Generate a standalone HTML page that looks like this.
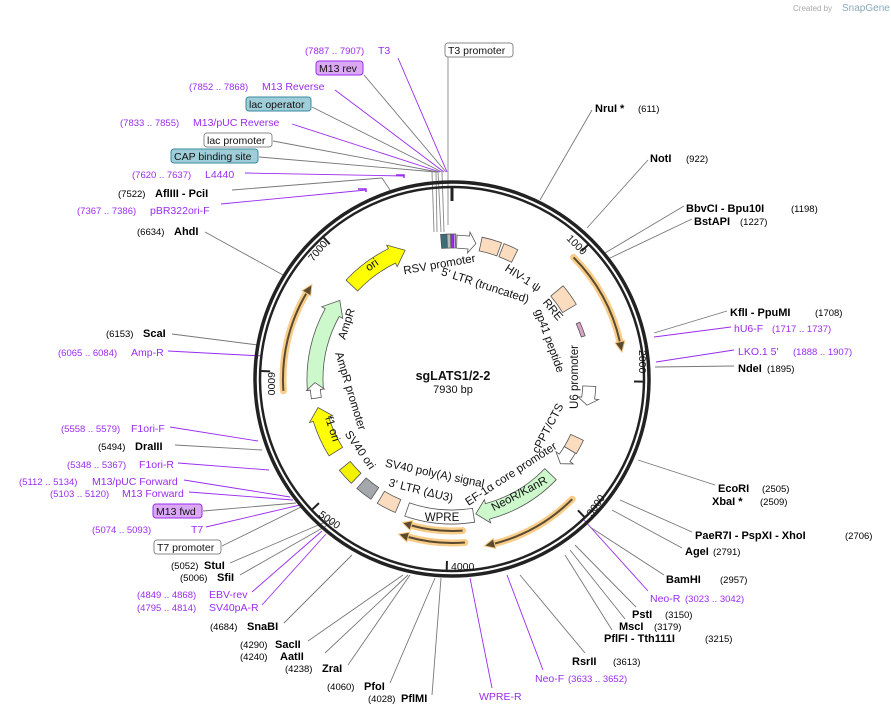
<!DOCTYPE html>
<html><head><meta charset="utf-8"><style>
body{margin:0;background:#fff;width:891px;height:714px;overflow:hidden}
svg{display:block;font-family:"Liberation Sans","DejaVu Sans",sans-serif}
.p{fill:#9a2cf0;font-size:10.5px}
.pc{fill:#9a2cf0;font-size:9.5px}
.k{fill:#000;font-size:11px;font-weight:bold}
.kc{fill:#000;font-size:9.5px}
.in{fill:#111;font-size:11.5px}
.bx{font-size:10.5px;fill:#111}
</style></head><body>
<svg id="s" width="891" height="714" viewBox="0 0 891 714" xmlns="http://www.w3.org/2000/svg">
<text x="793" y="11" font-size="8" fill="#aaa">Created by</text>
<text x="842" y="11" font-size="10" fill="#8ab">SnapGene</text>
<g id="lines" stroke-width="0.9" fill="none">
<line x1="398" y1="58" x2="447" y2="172" stroke="#9a2cf0"/>
<line x1="448" y1="57" x2="448" y2="225" stroke="#888"/>
<line x1="364" y1="75" x2="446" y2="172" stroke="#777"/>
<line x1="335" y1="90" x2="444" y2="172" stroke="#9a2cf0"/>
<line x1="312" y1="107" x2="442" y2="172" stroke="#777"/>
<line x1="292" y1="124" x2="440" y2="172" stroke="#9a2cf0"/>
<line x1="273" y1="141" x2="438" y2="172" stroke="#777"/>
<line x1="259" y1="157" x2="436" y2="172" stroke="#777"/>
<line x1="438" y1="172" x2="441" y2="232" stroke="#888"/>
<line x1="436" y1="172" x2="437" y2="232" stroke="#888"/>
<line x1="442" y1="172" x2="444" y2="232" stroke="#888"/>
<line x1="432" y1="172" x2="434" y2="232" stroke="#888"/>
<line x1="245" y1="173" x2="404" y2="176" stroke="#9a2cf0"/>
<line x1="232" y1="190" x2="382" y2="178" stroke="#777"/><line x1="382" y1="178" x2="390" y2="190" stroke="#777"/>
<line x1="221" y1="204" x2="366" y2="190" stroke="#9a2cf0"/>
<line x1="205" y1="232" x2="283" y2="275" stroke="#777"/>
<line x1="172" y1="334" x2="258" y2="345" stroke="#777"/>
<line x1="168" y1="351" x2="262" y2="356" stroke="#9a2cf0"/>
<line x1="170" y1="427" x2="258" y2="441" stroke="#9a2cf0"/>
<line x1="175" y1="445" x2="262" y2="450" stroke="#777"/>
<line x1="178" y1="463" x2="269" y2="470" stroke="#9a2cf0"/>
<line x1="184" y1="480" x2="290" y2="497" stroke="#9a2cf0"/>
<line x1="189" y1="492" x2="293" y2="500" stroke="#9a2cf0"/>
<line x1="203" y1="511" x2="296" y2="503" stroke="#777"/>
<line x1="206" y1="527" x2="300" y2="505" stroke="#9a2cf0"/>
<line x1="222" y1="546" x2="301" y2="507" stroke="#777"/>
<line x1="230" y1="563" x2="330" y2="520" stroke="#777"/>
<line x1="240" y1="575" x2="333" y2="522" stroke="#777"/>
<line x1="252" y1="592" x2="322" y2="531" stroke="#9a2cf0"/>
<line x1="262" y1="605" x2="326" y2="534" stroke="#9a2cf0"/>
<line x1="284" y1="623" x2="352" y2="555" stroke="#777"/>
<line x1="308" y1="641" x2="403" y2="575" stroke="#777"/>
<line x1="325" y1="653" x2="408" y2="575" stroke="#777"/>
<line x1="348" y1="665" x2="410" y2="575" stroke="#777"/>
<line x1="390" y1="683" x2="435" y2="578" stroke="#777"/>
<line x1="432" y1="695" x2="441" y2="578" stroke="#777"/>
<line x1="492" y1="688" x2="470" y2="578" stroke="#9a2cf0"/>
<line x1="543" y1="670" x2="507" y2="575" stroke="#9a2cf0"/>
<line x1="585" y1="653" x2="520" y2="575" stroke="#777"/>
<line x1="612" y1="630" x2="565" y2="555" stroke="#777"/>
<line x1="625" y1="619" x2="570" y2="550" stroke="#777"/>
<line x1="636" y1="607" x2="575" y2="545" stroke="#777"/>
<line x1="648" y1="591" x2="584" y2="520" stroke="#9a2cf0"/>
<line x1="664" y1="575" x2="590" y2="527" stroke="#777"/>
<line x1="682" y1="548" x2="612" y2="510" stroke="#777"/>
<line x1="692" y1="532" x2="620" y2="500" stroke="#777"/>
<line x1="715" y1="485" x2="638" y2="460" stroke="#777"/>
<line x1="734" y1="366" x2="655" y2="367" stroke="#777"/>
<line x1="734" y1="350" x2="656" y2="362" stroke="#9a2cf0"/>
<line x1="731" y1="327" x2="654" y2="337" stroke="#9a2cf0"/>
<line x1="727" y1="311" x2="654" y2="333" stroke="#777"/>
<line x1="692" y1="219" x2="610" y2="258" stroke="#777"/>
<line x1="684" y1="206" x2="605" y2="253" stroke="#777"/>
<line x1="648" y1="160" x2="587" y2="228" stroke="#777"/>
<line x1="592" y1="110" x2="540" y2="200" stroke="#777"/>
</g>
<g id="g"></g>
<text x="305" y="54" class="pc">(7887 .. 7907)</text><text x="378" y="54" class="p">T3</text>
<rect x="445" y="43" width="68" height="14" rx="3" fill="#fff" stroke="#888"/><text x="448" y="54" class="bx">T3 promoter</text>
<rect x="316" y="61" width="47" height="14" rx="3" fill="#dba8f3" stroke="#9a2cf0"/><text x="319" y="72" class="bx">M13 rev</text>
<text x="189" y="90" class="pc">(7852 .. 7868)</text><text x="262" y="90" class="p">M13 Reverse</text>
<rect x="246" y="97" width="65" height="14" rx="3" fill="#9fcdd8" stroke="#3a8aa0"/><text x="249" y="108" class="bx">lac operator</text>
<text x="120" y="126" class="pc">(7833 .. 7855)</text><text x="193" y="126" class="p">M13/pUC Reverse</text>
<rect x="204" y="133" width="68" height="14" rx="3" fill="#fff" stroke="#888"/><text x="207" y="144" class="bx">lac promoter</text>
<rect x="171" y="149" width="87" height="14" rx="3" fill="#9fcdd8" stroke="#3a8aa0"/><text x="174" y="160" class="bx">CAP binding site</text>
<text x="132" y="178" class="pc">(7620 .. 7637)</text><text x="205" y="178" class="p">L4440</text>
<text x="118" y="197" class="kc">(7522)</text><text x="155" y="197" class="k">AflIII  - PciI</text>
<text x="77" y="214" class="pc">(7367 .. 7386)</text><text x="150" y="214" class="p">pBR322ori-F</text>
<text x="137" y="235" class="kc">(6634)</text><text x="174" y="235" class="k">AhdI</text>
<text x="106" y="337" class="kc">(6153)</text><text x="143" y="337" class="k">ScaI</text>
<text x="58" y="356" class="pc">(6065 .. 6084)</text><text x="131" y="356" class="p">Amp-R</text>
<text x="61" y="432" class="pc">(5558 .. 5579)</text><text x="131" y="432" class="p">F1ori-F</text>
<text x="98" y="450" class="kc">(5494)</text><text x="135" y="450" class="k">DraIII</text>
<text x="67" y="468" class="pc">(5348 .. 5367)</text><text x="139" y="468" class="p">F1ori-R</text>
<text x="19" y="485" class="pc">(5112 .. 5134)</text><text x="92" y="485" class="p">M13/pUC Forward</text>
<text x="50" y="497" class="pc">(5103 .. 5120)</text><text x="122" y="497" class="p">M13 Forward</text>
<rect x="153" y="504" width="49" height="14" rx="3" fill="#dba8f3" stroke="#9a2cf0"/><text x="156" y="515" class="bx">M13 fwd</text>
<text x="92" y="533" class="pc">(5074 .. 5093)</text><text x="191" y="533" class="p">T7</text>
<rect x="154" y="540" width="67" height="14" rx="3" fill="#fff" stroke="#888"/><text x="157" y="551" class="bx">T7 promoter</text>
<text x="171" y="569" class="kc">(5052)</text><text x="204" y="569" class="k">StuI</text>
<text x="180" y="581" class="kc">(5006)</text><text x="217" y="581" class="k">SfiI</text>
<text x="137" y="598" class="pc">(4849 .. 4868)</text><text x="209" y="598" class="p">EBV-rev</text>
<text x="137" y="611" class="pc">(4795 .. 4814)</text><text x="209" y="611" class="p">SV40pA-R</text>
<text x="210" y="630" class="kc">(4684)</text><text x="247" y="630" class="k">SnaBI</text>
<text x="240" y="648" class="kc">(4290)</text><text x="275" y="648" class="k">SacII</text>
<text x="240" y="660" class="kc">(4240)</text><text x="280" y="660" class="k">AatII</text>
<text x="285" y="672" class="kc">(4238)</text><text x="322" y="672" class="k">ZraI</text>
<text x="327" y="690" class="kc">(4060)</text><text x="364" y="690" class="k">PfoI</text>
<text x="368" y="702" class="kc">(4028)</text><text x="401" y="702" class="k">PflMI</text>
<text x="479" y="700" class="p">WPRE-R</text>
<text x="535" y="682" class="p">Neo-F</text><text x="568" y="682" class="pc">(3633 .. 3652)</text>
<text x="572" y="665" class="k">RsrII</text><text x="613" y="665" class="kc">(3613)</text>
<text x="604" y="642" class="k">PflFI  - Tth111I</text><text x="705" y="642" class="kc">(3215)</text>
<text x="619" y="630" class="k">MscI</text><text x="654" y="630" class="kc">(3179)</text>
<text x="632" y="618" class="k">PstI</text><text x="665" y="618" class="kc">(3150)</text>
<text x="650" y="602" class="p">Neo-R</text><text x="685" y="602" class="pc">(3023 .. 3042)</text>
<text x="666" y="583" class="k">BamHI</text><text x="720" y="583" class="kc">(2957)</text>
<text x="685" y="555" class="k">AgeI</text><text x="713" y="555" class="kc">(2791)</text>
<text x="695" y="539" class="k">PaeR7I  - PspXI  - XhoI</text><text x="845" y="539" class="kc">(2706)</text>
<text x="718" y="492" class="k">EcoRI</text><text x="762" y="492" class="kc">(2505)</text>
<text x="712" y="505" class="k">XbaI *</text><text x="760" y="505" class="kc">(2509)</text>
<text x="738" y="372" class="k">NdeI</text><text x="767" y="372" class="kc">(1895)</text>
<text x="738" y="355" class="p">LKO.1 5'</text><text x="793" y="355" class="pc">(1888 .. 1907)</text>
<text x="734" y="332" class="p">hU6-F</text><text x="772" y="332" class="pc">(1717 .. 1737)</text>
<text x="730" y="316" class="k">KflI  - PpuMI</text><text x="815" y="316" class="kc">(1708)</text>
<text x="694" y="225" class="k">BstAPI</text><text x="740" y="225" class="kc">(1227)</text>
<text x="686" y="212" class="k">BbvCI  - Bpu10I</text><text x="791" y="212" class="kc">(1198)</text>
<text x="650" y="162" class="k">NotI</text><text x="686" y="162" class="kc">(922)</text>
<text x="595" y="112" class="k">NruI *</text><text x="638" y="112" class="kc">(611)</text>
<g font-size="10.5" fill="#111">
<text transform="translate(566,239) rotate(45)">1000</text>
<text transform="translate(639,350) rotate(90)">2000</text>
<text transform="translate(592,517) rotate(-55)">3000</text>
<text x="451" y="570">4000</text>
<text transform="translate(318,516) rotate(35)">5000</text>
<text transform="translate(268,372) rotate(90)" >6000</text>
<text transform="translate(313,262) rotate(-50)">7000</text>
</g>
<g class="in" fill="#111" text-anchor="middle">
<text transform="translate(440,268) rotate(-10)">RSV promoter</text>
<text transform="translate(484,289) rotate(18)">5' LTR (truncated)</text>
<text transform="translate(521,281) rotate(33)">HIV-1 ψ</text>
<text transform="translate(550,312) rotate(50)">RRE</text>
<text transform="translate(546,342) rotate(70)">gp41 peptide</text>
<text transform="translate(578,377) rotate(-90)">U6 promoter</text>
<text transform="translate(551,430) rotate(-62)">cPPT/CTS</text>
<text transform="translate(513,477) rotate(-33)">EF-1α core promoter</text>
<text transform="translate(521,497) rotate(-28)">NeoR/KanR</text>
<text x="442" y="521">WPRE</text>
<text transform="translate(420,494) rotate(14)">3' LTR (ΔU3)</text>
<text transform="translate(434,477) rotate(12)">SV40 poly(A) signal</text>
<text transform="translate(357,452) rotate(55)">SV40 ori</text>
<text transform="translate(347,392) rotate(73)">AmpR promoter</text>
<text transform="translate(350,325) rotate(-72)">AmpR</text>
<text transform="translate(374,268) rotate(-35)">ori</text>
<text transform="translate(329,430) rotate(72)">f1 ori</text>
<text x="453" y="380" font-weight="bold" font-size="12.5">sgLATS1/2-2</text>
<text x="453" y="393" font-size="11">7930 bp</text>
</g>
<script>
var cx=452,cy=379,g=document.getElementById('g'),NS='http://www.w3.org/2000/svg';
function P(r,a){a=a*Math.PI/180;return [cx+r*Math.sin(a),cy-r*Math.cos(a)];}
function el(t,at){var e=document.createElementNS(NS,t);for(var k in at)e.setAttribute(k,at[k]);g.appendChild(e);return e;}
function f(p){return p[0].toFixed(1)+','+p[1].toFixed(1);}
function arc(r,a1,a2){var s=a2>a1?1:0,l=Math.abs(a2-a1)>180?1:0;return 'A'+r+','+r+' 0 '+l+','+s+' '+f(P(r,a2));}
function band(r1,r2,a1,a2,fill,stroke){
 el('path',{d:'M'+f(P(r2,a1))+arc(r2,a1,a2)+'L'+f(P(r1,a2))+arc(r1,a2,a1)+'Z',fill:fill,stroke:stroke||'#555','stroke-width':0.8});}
function arrow(r1,r2,a1,a2,h,fill){
 var d=a2>a1?1:-1,ab=a2-d*h,w=4;
 el('path',{d:'M'+f(P(r2,a1))+arc(r2,a1,ab)+'L'+f(P(r2+w,ab))+'L'+f(P((r1+r2)/2,a2))+'L'+f(P(r1-w,ab))+'L'+f(P(r1,ab))+arc(r1,ab,a1)+'Z',fill:fill,stroke:'#555','stroke-width':0.8});}
function orf(r,a1,a2){var d=a2>a1?1:-1,ab=a2-d*3.5;
 el('path',{d:'M'+f(P(r,a1))+arc(r,a1,ab),stroke:'#f7c67c','stroke-width':7,fill:'none','stroke-linecap':'round',opacity:0.9});
 el('path',{d:'M'+f(P(r,a1))+arc(r,a1,ab),stroke:'#5a4a30','stroke-width':2,fill:'none'});
 el('path',{d:'M'+f(P(r+5,ab))+'L'+f(P(r,a2))+'L'+f(P(r-5,ab))+'Z',fill:'#5a4a30',stroke:'#f7c67c','stroke-width':1});}
el('circle',{cx:cx,cy:cy,r:197,fill:'none',stroke:'#222','stroke-width':3.5});
el('circle',{cx:cx,cy:cy,r:192,fill:'none',stroke:'#222','stroke-width':2.5});
[0,1000,2000,3000,4000,5000,6000,7000].forEach(function(b){var a=b/7930*360;
 el('line',{x1:P(191,a)[0],y1:P(191,a)[1],x2:P(b?182:178,a)[0],y2:P(b?182:178,a)[1],stroke:'#222','stroke-width':b?2:3});});
orf(172,45,81);orf(170,135,169);orf(152,176,199);orf(164,175.5,199);orf(169,266,304);
arrow(129,145,313,340,6,'#ffff00');
arrow(129,145,265.5,305,6,'#ccf8cc');
arrow(132,142,262,268.5,3,'#fff');
arrow(129,145,238,258,5,'#ffff00');
band(131,145,224,231,'#f2f200');
band(131,145,214,221,'#a4a8ad');
band(131,145,203,211,'#fbdcbf');
band(131,145,171,199,'#fff');
arrow(129,145,134,170,5,'#ccf8cc');
arrow(131,144,121,128,3,'#fff');
band(131,145,115,121,'#fbdcbf');
arrow(131,144,93,101,3,'#fff');
band(136,140,66,72,'#d9a0c8');
band(129,145,50,59,'#fbdcbf');
band(131,145,21,27,'#fbdcbf');
band(131,145,12,20,'#fbdcbf');
arrow(131,144,2,10,3,'#fff');
band(131,145,-4.5,-2,'#3a6f7a');band(131,145,-2,-0.5,'#bbb');band(131,145,-0.5,0.7,'#9a2cf0');band(131,145,0.7,1.5,'#cfa0f0');
[[404,176],[366,190]].forEach(function(p){el('path',{d:'M'+(p[0]-8)+','+(p[1]-1)+'h8v3',stroke:'#9a2cf0',fill:'none','stroke-width':1.5});});
</script>
</svg>
</body></html>
